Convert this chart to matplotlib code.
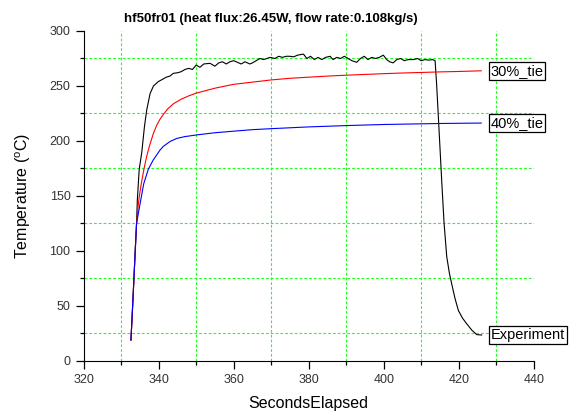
import matplotlib
matplotlib.use('Agg')
import matplotlib.pyplot as plt
from matplotlib.ticker import MultipleLocator

plt.rcParams['font.family'] = ['Liberation Sans', 'DejaVu Sans']
plt.rcParams['mathtext.fontset'] = 'custom'
plt.rcParams['mathtext.rm'] = 'Liberation Sans'

exp_x = [332.6, 333.0, 333.4, 333.8, 334.1, 334.3, 334.8, 335.5, 336.2, 336.8,
         337.7, 338.6, 339.9, 341.0, 342.0, 343.0, 343.9, 345.0, 346.0, 347.0,
         348.0, 349.0, 350.0, 351.0, 352.0, 353.7, 355.0, 356.0, 357.0, 358.0,
         359.0, 360.0, 361.0, 362.0, 363.0, 364.3, 365.0, 366.0, 367.0, 368.0,
         369.7, 371.0, 372.0, 373.0, 374.0, 375.0, 376.0, 377.0, 378.6, 379.5,
         380.5, 381.5, 382.5, 383.5, 384.5, 385.7, 386.5, 387.5, 388.5, 389.5,
         390.5, 391.5, 392.8, 393.8, 394.8, 395.8, 396.8, 397.8, 398.8, 399.9,
         400.8, 401.6, 402.5, 403.5, 404.5, 405.5, 406.5, 407.9, 409.0, 410.0,
         411.0, 412.0, 413.0, 413.7, 414.1, 414.8, 415.5, 416.1, 416.8, 417.5,
         418.1, 419.0, 419.9, 421.0, 422.1, 423.5, 424.8, 426.1]
exp_y = [19, 45, 75, 105, 125, 146, 174, 190, 213, 228,
         243, 250, 254, 256, 258, 259, 261.5, 262, 263, 265,
         266, 265, 269, 267, 270, 270.6, 268, 271, 272, 270,
         272, 273, 271.5, 270, 272, 270, 271, 273, 275, 274,
         276, 275, 277, 276, 277, 277, 276.5, 278, 279, 275,
         277, 274, 276, 274, 276, 277, 274, 276, 275, 277,
         275, 273, 271.5, 275, 277, 274, 276, 275, 276, 278,
         274, 272, 271, 274, 275, 273, 274, 274, 275, 273,
         274, 273.5, 274, 273, 252, 207, 161.5, 125, 95, 80,
         70.6, 57, 46, 39, 34, 28, 24, 23.6]

# 30%_tie
tie30_x = [332.6, 333.4, 334.1, 334.5, 334.8, 335.4, 336.1, 336.8, 337.5, 338.6,
           339.5, 340.3, 341.2, 342.5, 344.0, 346.0, 348.0, 350.0, 355.0, 360.0,
           365.0, 370.0, 375.0, 380.0, 385.0, 390.0, 395.0, 400.0, 405.0, 410.0,
           415.0, 420.0, 426.0]
tie30_y = [19, 75, 125, 140, 149, 162, 175, 186, 195, 207,
           214.5, 219.5, 224, 229.5, 234, 238, 241, 243.5, 248, 251.5,
           253.5, 255.5, 257, 258, 259, 259.8, 260.5, 261.2, 261.8, 262.3,
           262.8, 263.2, 263.8]

# 40%_tie
tie40_x = [332.6, 333.4, 334.1, 335.2, 336.0, 337.2, 338.5, 339.5, 340.3, 341.2,
           343.0, 344.8, 347.0, 350.1, 355.0, 360.3, 365.0, 370.0, 375.0, 380.0,
           385.0, 390.0, 395.0, 400.0, 405.0, 410.0, 415.0, 420.0, 426.0]
tie40_y = [19, 75, 125, 146, 161, 174, 182.5, 187.5, 191.5, 195,
           199.5, 202.3, 204, 205.5, 207.5, 209, 210.3, 211.2, 212, 212.8,
           213.4, 214, 214.5, 215, 215.3, 215.6, 215.9, 216.1, 216.3]

fig = plt.figure(figsize=(5.86, 4.12), dpi=100)
ax = fig.add_axes([0.1428, 0.1238, 0.768, 0.801])

ax.plot(exp_x, exp_y, color='black', linewidth=0.8)
ax.plot(tie30_x, tie30_y, color='red', linewidth=0.8)
ax.plot(tie40_x, tie40_y, color='blue', linewidth=0.8)

# 曲线末端的标签
box = dict(boxstyle='square,pad=0.12', facecolor='white', edgecolor='black', linewidth=0.9)
ax.text(428.5, tie30_y[-1], '30%_tie', fontsize=10.5, va='center', ha='left', bbox=box)
ax.text(428.5, tie40_y[-1], '40%_tie', fontsize=10.5, va='center', ha='left', bbox=box)
ax.text(428.5, exp_y[-1], 'Experiment', fontsize=10.5, va='center', ha='left', bbox=box)

ax.set_xlim(320, 440)
ax.set_ylim(0, 300)
ax.xaxis.set_major_locator(MultipleLocator(20))
ax.xaxis.set_minor_locator(MultipleLocator(10))
ax.yaxis.set_major_locator(MultipleLocator(50))
ax.yaxis.set_minor_locator(MultipleLocator(25))
ax.grid(which='minor', color='#22ff22', linestyle=(0, (2.5, 1.8)), linewidth=0.8)
ax.grid(which='major', visible=False)

ax.spines['top'].set_visible(False)
ax.spines['right'].set_visible(False)
ax.tick_params(which='major', direction='out', length=6, width=0.9, labelsize=9,
               labelcolor='#333333')
ax.tick_params(which='minor', direction='out', length=3, width=0.9)

ax.set_xlabel('SecondsElapsed', fontsize=11.5, labelpad=7)
ax.set_ylabel('Temperature ($^{\\mathrm{o}}$C)', fontsize=11.5, labelpad=12)
fig.text(0.4625, 0.953, 'hf50fr01 (heat flux:26.45W, flow rate:0.108kg/s)',
         fontsize=9.5, fontweight='bold', ha='center', va='center')

plt.savefig('out.png', dpi=100)
